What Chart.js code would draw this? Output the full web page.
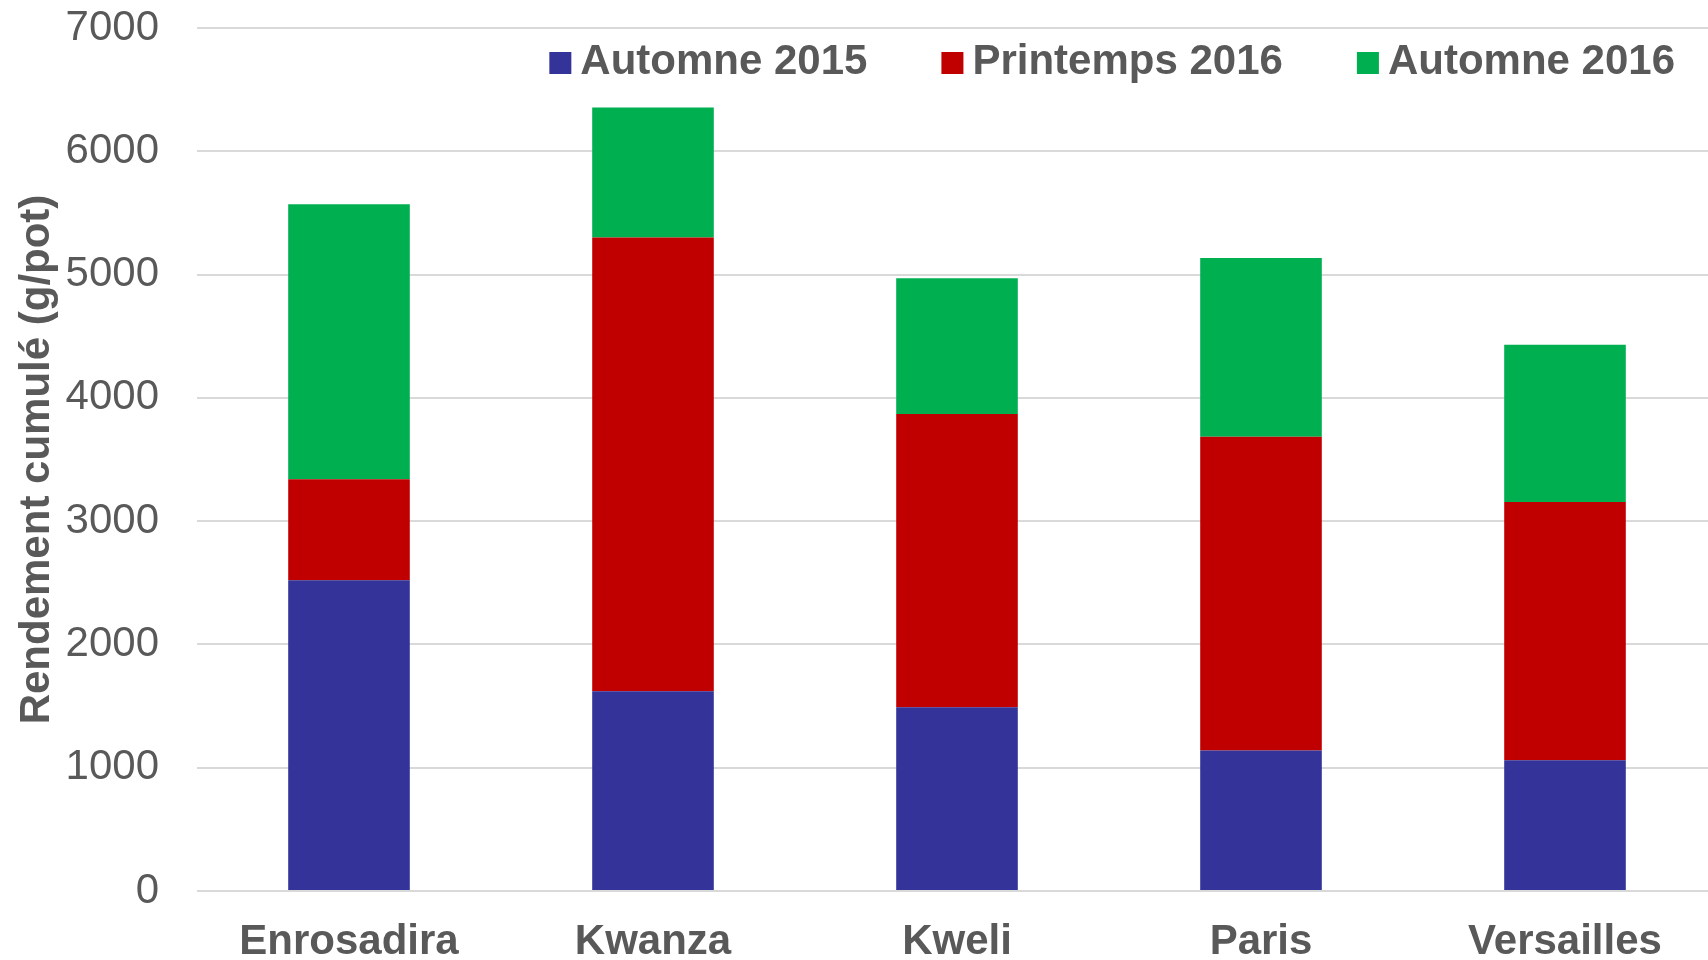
<!DOCTYPE html>
<html>
<head>
<meta charset="utf-8">
<script src="https://cdn.jsdelivr.net/npm/chart.js@4/dist/chart.umd.min.js"></script>
<style>
  html, body { margin: 0; padding: 0; background: #fff; overflow: hidden; }
  #wrap { width: 1717px; height: 960px; }
</style>
</head>
<body>
<div id="wrap"><canvas id="chart"></canvas></div>
<script>
const varieties = ["Enrosadira", "Kwanza", "Kweli", "Paris", "Versailles"];
const seasonNames = ["Automne 2015", "Printemps 2016", "Automne 2016"];
const seasonColors = ["#333399", "#C00000", "#00B050"];

// rendement par saison (g/pot), empilé
const autumn2015 = [2520, 1620, 1490, 1140, 1060];
const spring2016 = [820, 3680, 2380, 2545, 2095];
const autumn2016 = [2230, 1055, 1100, 1450, 1275];

const yTicks = [0, 1000, 2000, 3000, 4000, 5000, 6000, 7000];

const textColor = "#595959";
const fontFamily = "'Liberation Sans', Arial, sans-serif";

// Legend drawn in the top right of the plot area
const topLegend = {
  id: "topLegend",
  afterDatasetsDraw(chart) {
    const ctx = chart.ctx;
    const area = chart.chartArea;
    ctx.save();
    ctx.font = "bold 42px " + fontFamily;
    ctx.textBaseline = "middle";
    const boxSize = 22;
    const boxGap = 9;
    const itemGap = 74;
    const items = chart.data.datasets.map((ds) => ({
      label: ds.label,
      color: ds.backgroundColor,
      width: ctx.measureText(ds.label).width,
    }));
    let total = 0;
    items.forEach((it, i) => {
      total += boxSize + boxGap + it.width + (i < items.length - 1 ? itemGap : 0);
    });
    let x = area.right - 42 - total;
    const cy = area.top + 34;
    items.forEach((it) => {
      ctx.fillStyle = it.color;
      ctx.fillRect(x, cy - boxSize / 2 + 1, boxSize, boxSize);
      x += boxSize + boxGap;
      ctx.fillStyle = textColor;
      ctx.fillText(it.label, x, cy);
      x += it.width + itemGap;
    });
    ctx.restore();
  },
};

const seriesValues = [autumn2015, spring2016, autumn2016];

new Chart(document.getElementById("chart"), {
  type: "bar",
  data: {
    labels: varieties,
    datasets: seasonNames.map((name, i) => ({
      label: name,
      data: seriesValues[i],
      backgroundColor: seasonColors[i],
      borderWidth: 0,
      categoryPercentage: 1,
      barPercentage: 0.4,
    })),
  },
  options: {
    responsive: true,
    maintainAspectRatio: false,
    animation: false,
    layout: { padding: { top: 28, right: 0, left: 0, bottom: 0 } },
    plugins: {
      legend: { display: false },
      tooltip: { enabled: false },
    },
    scales: {
      x: {
        stacked: true,
        grid: { display: false, drawTicks: false },
        border: { display: false },
        ticks: {
          color: textColor,
          font: { family: fontFamily, size: 42, weight: "bold" },
          padding: 26,
          maxRotation: 0,
        },
        afterFit(scale) {
          scale.height = 69;
          scale.paddingLeft = 0;
          scale.paddingRight = 0;
        },
      },
      y: {
        stacked: true,
        min: 0,
        max: 7000,
        afterBuildTicks(scale) {
          scale.ticks = yTicks.map((v) => ({ value: v }));
        },
        grid: { color: "#d9d9d9", lineWidth: 2, drawTicks: false },
        border: { display: false },
        ticks: {
          color: textColor,
          font: { family: fontFamily, size: 42 },
          padding: 38,
          callback: (v) => String(v),
        },
        title: {
          display: true,
          text: "Rendement cumulé (g/pot)",
          color: textColor,
          font: { family: fontFamily, size: 42, weight: "bold" },
          padding: { top: 12, bottom: 0 },
        },
        afterFit(scale) {
          scale.width = 197;
          scale.paddingTop = 0;
          scale.paddingBottom = 0;
        },
      },
    },
  },
  plugins: [topLegend],
});
</script>
</body>
</html>
